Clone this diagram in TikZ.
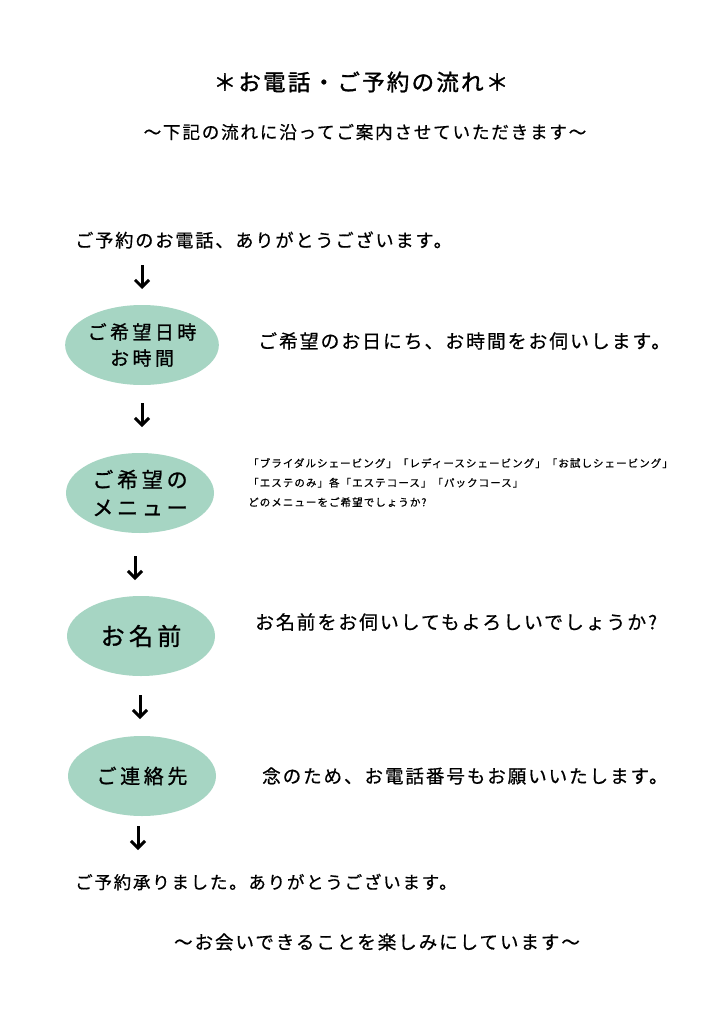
\documentclass[tikz,border=0pt]{standalone}
\usepackage{fontspec}
\setmainfont{Noto Sans CJK JP}[LetterSpace=10, FakeBold=0.6]
\newfontfamily\heavy{Noto Sans CJK JP}[LetterSpace=10, FakeBold=1.4]
\newfontfamily\wide{Noto Sans CJK JP}[LetterSpace=18, FakeBold=1.0]
\usetikzlibrary{shapes.geometric,arrows.meta}
\definecolor{mint}{HTML}{A6D5C3}
\begin{document}
\begin{tikzpicture}[x=1pt,y=-1pt,
  bubble/.style={ellipse, fill=mint, minimum width=148pt, minimum height=80pt, inner sep=0pt, align=center},
  flow/.style={-{Straight Barb[length=7pt,width=14pt]}, line width=3pt},
  txt/.style={inner sep=0pt, anchor=west},
  ctr/.style={inner sep=0pt, anchor=center}
]
\path[use as bounding box, fill=white] (0,0) rectangle (724,1024);

\node[ctr, font=\heavy\fontsize{22.5}{26}\selectfont] (title) at (361,82) {＊お電話・ご予約の流れ＊};
\node[ctr, font=\fontsize{17.6}{20}\selectfont] (sub) at (365,132) {～下記の流れに沿ってご案内させていただきます～};

\node[txt, font=\fontsize{18.2}{20}\selectfont] (start) at (75,240) {ご予約のお電話、ありがとうございます。};

\node[bubble, font=\wide\fontsize{19}{26}\selectfont] (b1) at (142,345) {ご希望日時\\お時間};
\node[txt, font=\fontsize{18.9}{20}\selectfont] (t1) at (258,341) {ご希望のお日にち、お時間をお伺いします。};

\node[bubble, font=\wide\fontsize{21}{28}\selectfont] (b2) at (140,493) {ご希望の\\メニュー};
\node[txt, font=\fontsize{10.5}{19.5}\selectfont, align=left, anchor=north west] (t2) at (248,458) {「ブライダルシェービング」「レディースシェービング」「お試しシェービング」\\「エステのみ」各「エステコース」「パックコース」\\どのメニューをご希望でしょうか?};

\node[bubble, font=\wide\fontsize{24}{28}\selectfont] (b3) at (141,636) {お名前};
\node[txt, font=\fontsize{18.9}{20}\selectfont] (t3) at (255,622) {お名前をお伺いしてもよろしいでしょうか?};

\node[bubble, font=\wide\fontsize{20}{26}\selectfont] (b4) at (142,776) {ご連絡先};
\node[txt, font=\fontsize{18.6}{20}\selectfont] (t4) at (262,776) {念のため、お電話番号もお願いいたします。};

\node[txt, font=\fontsize{17.5}{20}\selectfont] (end) at (75,882) {ご予約承りました。ありがとうございます。};
\node[ctr, font=\fontsize{18.6}{20}\selectfont] (bye) at (377,942) {～お会いできることを楽しみにしています～};

\coordinate (a1s) at (142,265); \coordinate (a1e) at (142,289);
\coordinate (a2s) at (142,403); \coordinate (a2e) at (142,427);
\coordinate (a3s) at (135,556); \coordinate (a3e) at (135,580);
\coordinate (a4s) at (140,695); \coordinate (a4e) at (140,719);
\coordinate (a5s) at (138,826); \coordinate (a5e) at (138,850);
\draw[flow] (a1s) -- (a1e);
\draw[flow] (a2s) -- (a2e);
\draw[flow] (a3s) -- (a3e);
\draw[flow] (a4s) -- (a4e);
\draw[flow] (a5s) -- (a5e);
\end{tikzpicture}
\end{document}
